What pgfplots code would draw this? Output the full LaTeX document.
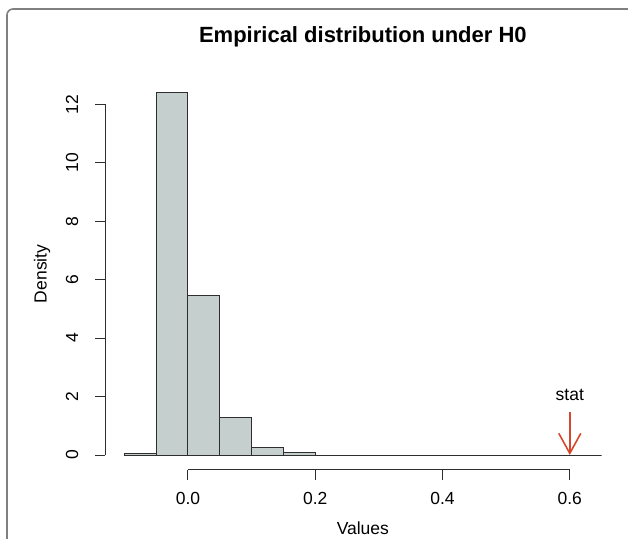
\documentclass[border=0pt]{standalone}
\usepackage{fontspec}
\setmainfont{Liberation Sans}
\usepackage{pgfplots}
\pgfplotsset{compat=1.18}
\usetikzlibrary{arrows.meta}
\definecolor{barfill}{RGB}{197,208,206}
\definecolor{statred}{RGB}{214,72,45}
\definecolor{framegray}{RGB}{128,128,128}

\begin{document}
\begin{tikzpicture}[lab/.style={font=\fontsize{17.5}{18}\selectfont,inner sep=0pt,anchor=center}]
\path[use as bounding box] (0,0) rectangle (628pt,538pt);
\draw[framegray,line width=1.6pt,rounded corners=6pt] (7pt,-2pt) -- (7pt,529pt) -- (630pt,529pt);
\begin{axis}[
  at={(105pt,68.5pt)},anchor=south west,
  scale only axis,width=515.7pt,height=391.3pt,
  xmin=-0.1304,xmax=0.68,ymin=-0.496,ymax=12.896,
  axis lines=none,
  title={Empirical distribution under H0},
  title style={font=\fontsize{22}{23}\selectfont\bfseries,at={(axis description cs:0.5,1)},anchor=center,yshift=35pt},
  clip=false,
]
\addplot[ybar interval,fill=barfill,draw=black!82,line width=1pt] coordinates {
  (-0.10,0.04) (-0.05,12.40) (0.00,5.45) (0.05,1.27) (0.10,0.27) (0.15,0.08)
  (0.20,0) (0.25,0) (0.30,0) (0.35,0) (0.40,0) (0.45,0) (0.50,0) (0.55,0) (0.60,0) (0.65,0)
};
% R style axes: the line runs only from the first tick to the last
\draw[black!82,line width=1pt] (axis cs:0,-0.496) -- (axis cs:0.6,-0.496);
\draw[black!82,line width=1pt] (axis cs:-0.1304,0) -- (axis cs:-0.1304,12);
\pgfplotsinvokeforeach{0,0.2,0.4,0.6}{
  \draw[black!82,line width=1pt] (axis cs:#1,-0.496) -- ++(0pt,-10pt);
}
\pgfplotsinvokeforeach{0,2,4,6,8,10,12}{
  \draw[black!82,line width=1pt] (axis cs:-0.1304,#1) -- ++(-10pt,0pt);
  \path (axis cs:-0.1304,#1) ++(-33pt,0pt) node[lab,rotate=90] {#1};
}
\path (axis cs:0,-0.496) ++(0pt,-28.5pt) node[lab] {0.0};
\path (axis cs:0.2,-0.496) ++(0pt,-28.5pt) node[lab] {0.2};
\path (axis cs:0.4,-0.496) ++(0pt,-28.5pt) node[lab] {0.4};
\path (axis cs:0.6,-0.496) ++(0pt,-28.5pt) node[lab] {0.6};
\path (axis description cs:0.5,0) ++(0pt,-58.5pt) node[lab] {Values};
\path (axis description cs:0,0.5) ++(-63pt,0pt) node[lab,rotate=90] {Density};
\draw[draw=statred,line width=1.6pt,-{Straight Barb[length=20pt,width=22pt,line width=1.6pt]}] (axis cs:0.6,1.47) -- (axis cs:0.6,0);
\node[lab] at (axis cs:0.6,2.06) {stat};
\end{axis}
\end{tikzpicture}
\end{document}
